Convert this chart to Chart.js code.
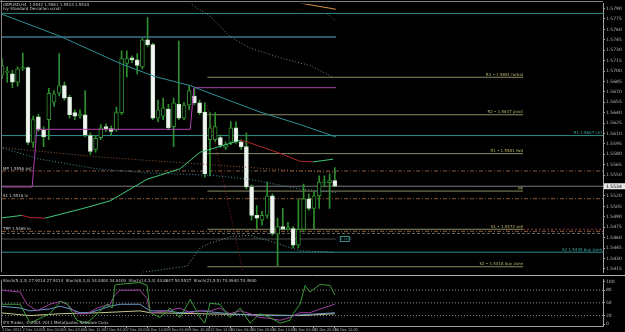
<!DOCTYPE html>
<html>
<head>
<meta charset="utf-8">
<title>GBPUSD,H4</title>
<script src="https://cdn.jsdelivr.net/npm/chart.js@4.4.1/dist/chart.umd.min.js"></script>
<style>
  html, body { margin: 0; padding: 0; background: #000; }
  #wrap { position: relative; width: 625px; height: 332px; overflow: hidden; background: #000; }
  canvas { position: absolute; left: 0; }
  #main { top: 0; }
  #osc { top: 276px; }
</style>
</head>
<body>
<div id="wrap">
  <canvas id="main" width="625" height="276"></canvas>
  <canvas id="osc" width="625" height="56"></canvas>
</div>
<script>
// H4 bars, first one 1 Dec 20:00, last one 16 Dec 12:00
var opens = [1.5694, 1.5698, 1.5696, 1.5684, 1.5703, 1.5705, 1.5597, 1.5634, 1.5615, 1.5630,
  1.5655, 1.5668, 1.5679, 1.5662, 1.5640, 1.5635, 1.5637, 1.5607, 1.5587, 1.5604,
  1.5620, 1.5617, 1.5615, 1.5640, 1.5711, 1.5719, 1.5716, 1.5706, 1.5745, 1.5738,
  1.5632, 1.5635, 1.5645, 1.5620, 1.5652, 1.5632, 1.5651, 1.5664, 1.5654, 1.5641,
  1.5601, 1.5601, 1.5604, 1.5590, 1.5597, 1.5618, 1.5598, 1.5591, 1.5533, 1.5492,
  1.5485, 1.5492, 1.5520, 1.5465, 1.5476, 1.5472, 1.5473, 1.5449, 1.5472, 1.5516,
  1.5502, 1.5520, 1.5539, 1.5539, 1.5542];
var highs = [1.5718, 1.5706, 1.5701, 1.5706, 1.5726, 1.5706, 1.5635, 1.5638, 1.5620, 1.5675,
  1.5672, 1.5725, 1.5684, 1.5665, 1.5644, 1.5644, 1.5672, 1.5611, 1.5607, 1.5623,
  1.5624, 1.5621, 1.5648, 1.5729, 1.5729, 1.5722, 1.5725, 1.5747, 1.5777, 1.5740,
  1.5658, 1.5661, 1.5652, 1.5661, 1.5743, 1.5655, 1.5679, 1.5675, 1.5658, 1.5654,
  1.5640, 1.5640, 1.5608, 1.5598, 1.5627, 1.5627, 1.5601, 1.5611, 1.5536, 1.5506,
  1.5498, 1.5540, 1.5523, 1.5488, 1.5502, 1.5482, 1.5476, 1.5516, 1.5537, 1.5523,
  1.5526, 1.5549, 1.5549, 1.5552, 1.5561];
var lows = [1.5689, 1.5684, 1.5676, 1.5678, 1.5701, 1.5594, 1.5590, 1.5613, 1.5591, 1.5601,
  1.5649, 1.5664, 1.5658, 1.5632, 1.5630, 1.5632, 1.5605, 1.5580, 1.5583, 1.5601,
  1.5613, 1.5608, 1.5613, 1.5637, 1.5691, 1.5712, 1.5696, 1.5703, 1.5735, 1.5630,
  1.5627, 1.5630, 1.5615, 1.5591, 1.5630, 1.5630, 1.5644, 1.5651, 1.5637, 1.5547,
  1.5549, 1.5598, 1.5590, 1.5587, 1.5594, 1.5596, 1.5587, 1.5530, 1.5485, 1.5473,
  1.5478, 1.5488, 1.5463, 1.5419, 1.5471, 1.5471, 1.5445, 1.5445, 1.5469, 1.5499,
  1.5473, 1.5502, 1.5533, 1.5502, 1.5533];
var closes = [1.5708, 1.5699, 1.5684, 1.5703, 1.5705, 1.5597, 1.5630, 1.5615, 1.5605, 1.5668,
  1.5667, 1.5679, 1.5661, 1.5637, 1.5635, 1.5638, 1.5608, 1.5584, 1.5603, 1.5618,
  1.5617, 1.5613, 1.5640, 1.5718, 1.5718, 1.5716, 1.5708, 1.5745, 1.5738, 1.5632,
  1.5644, 1.5647, 1.5618, 1.5654, 1.5632, 1.5651, 1.5672, 1.5654, 1.5640, 1.5552,
  1.5618, 1.5620, 1.5593, 1.5594, 1.5618, 1.5598, 1.5591, 1.5533, 1.5492, 1.5488,
  1.5492, 1.5520, 1.5466, 1.5476, 1.5472, 1.5475, 1.5449, 1.5472, 1.5516, 1.5502,
  1.5520, 1.5540, 1.5540, 1.5542, 1.5534];

// one time label every 4 bars
var timeLabels = ['1 Dec 2011', '2 Dec 12:00', '5 Dec 04:00', '5 Dec 20:00', '6 Dec 12:00', '7 Dec 04:00',
  '7 Dec 20:00', '8 Dec 12:00', '9 Dec 04:00', '9 Dec 20:00', '12 Dec 12:00', '13 Dec 04:00',
  '13 Dec 20:00', '14 Dec 12:00', '15 Dec 04:00', '15 Dec 20:00', '16 Dec 12:00'];
var priceTicks = [1.5790, 1.5775, 1.5760, 1.5745, 1.5730, 1.5715, 1.5700, 1.5685, 1.5670, 1.5655,
  1.5640, 1.5625, 1.5610, 1.5595, 1.5580, 1.5565, 1.5550, 1.5535, 1.5520, 1.5505,
  1.5490, 1.5475, 1.5460, 1.5445, 1.5430, 1.5415];
var oscTicks = [100, 80, 50, 20, 0];
var oscLevels = [80, 50, 20];

// horizontal objects
var tealLevels = [1.5783, 1.5607, 1.5439];
var tealNames = ['', 'R1 1.5607 ctrl', 'S2 1.5439 buy zone'];
var pivotLevels = [1.5691, 1.5637, 1.5581, 1.5527, 1.5472, 1.5418];
var pivotNames = ['R3 \u2022 1.5691 forbid', 'R2 \u2022 1.5637 pivot', 'R1 \u2022 1.5581 fwd', 'PP', 'S1 \u2022 1.5472 sell', 'S2 \u2022 1.5418 buy zone'];
var dashLevels = [1.5556, 1.5516, 1.5469];
var dashNames = ['MP 1.5556 pvt', 'S1 1.5516 lv', 'TRP 1.5469 lo'];
var greyDashLevel = 1.5466;
var bidLevel = 1.5534;
var weekHigh = 1.5749;
var weekLow = 1.5458;

// indicator lines, [bar, price]
var maTeal = [[-0.4, 1.5783], [11.2, 1.5750], [22.7, 1.5711], [29.4, 1.5692], [36.2, 1.5679], [40, 1.5668], [49.6, 1.5641], [57.3, 1.5623], [64.2, 1.5605]];
var maTrend = [[-0.4, 1.5488], [3.8, 1.5492], [5.4, 1.5489], [8.3, 1.5488], [15.6, 1.5502], [20.8, 1.5513], [27.9, 1.5544], [34.2, 1.5559], [38.1, 1.5583], [40, 1.5587], [44.4, 1.5597], [45.8, 1.5600], [47.1, 1.5598], [52.9, 1.5583], [57.3, 1.5570], [59.8, 1.5569], [63.7, 1.5573]];
var stopLine = [[-0.4, 1.5533], [5.8, 1.5533], [6.7, 1.5616], [36.2, 1.5616], [36.9, 1.5676], [64.2, 1.5676]];
var chanUpper = [[35.6, 1.5800], [40, 1.5779], [43.8, 1.5750], [47.7, 1.5733], [54.0, 1.5718], [59.2, 1.5708], [63.7, 1.5691]];
var chanUpper2 = [[62.5, 1.5783], [64.2, 1.5772]];
var chanMid = [[-0.4, 1.5590], [18.9, 1.5576], [38.1, 1.5566], [57.3, 1.5556], [64.2, 1.5554]];
var chanMid2 = [[-0.4, 1.5590], [7.3, 1.5573], [18.3, 1.5559], [28.5, 1.5553], [40, 1.5550], [47.7, 1.5544], [57.3, 1.5530], [64.2, 1.5525]];
var chanLower = [[27.1, 1.5410], [35.6, 1.5419], [38.1, 1.5445], [40, 1.5452], [44.4, 1.5462], [47.7, 1.5463], [51.5, 1.5455], [57.3, 1.5441], [63.7, 1.5439]];
var fibRay = [[39.4, 1.5651], [46.35, 1.5410]];
var orangeRay = [[57.3, 1.5798], [64.2, 1.5789]];

// stochastics, [bar, value]
var stochGreen = [[-0.4, 46.7], [3.5, 46.7], [5.4, 2.2], [7.3, 13.3], [9.2, 24.4], [11.2, 53.3], [12.5, 48.9], [14.4, 8.9], [16.3, 2.2], [18.3, 24.4], [20.2, 46.7], [21.2, 37.8], [21.7, 91.1], [22.1, 93.3], [26.5, 97.8], [27.9, 91.1], [28.5, 26.7], [30.4, 15.6], [32.3, 37.8], [34.2, 15.6], [36.2, 57.8], [38.1, 15.6], [39.0, 2.2], [40, 48.9], [41.9, 46.7], [43.8, 15.6], [45.8, 37.8], [47.7, 2.2], [49.6, 24.4], [51.5, 15.6], [53.5, 2.2], [55.4, 8.9], [56, 24.4], [57.3, 46.7], [58.3, 91.1], [59.2, 75.6], [61.2, 93.3], [63.1, 91.1], [64, 68.9]];
var stochMagenta = [[-0.4, 80], [3.5, 75.6], [4.8, 46.7], [6.7, 31.1], [9.2, 46.7], [11.2, 53.3], [12.5, 46.7], [14.4, 24.4], [16.3, 24.4], [18.3, 37.8], [20.8, 46.7], [21.7, 68.9], [22.7, 80], [26.5, 80], [27.9, 60], [28.5, 26.7], [31.7, 31.1], [34.2, 37.8], [36.2, 26.7], [38.1, 31.1], [40, 31.1], [41.9, 37.8], [43.8, 24.4], [45.8, 31.1], [47.7, 24.4], [49.6, 15.6], [51.5, 13.3], [53.5, 8.9], [55.4, 15.6], [57.3, 26.7], [59.2, 26.7], [61.2, 35.6], [64, 46.7]];
var stochBlue = [[-0.4, 42.2], [3.5, 37.8], [5.4, 31.1], [9.2, 35.6], [11.2, 42.2], [13.1, 35.6], [15, 26.7], [16.9, 26.7], [20.8, 42.2], [22.7, 46.7], [26.5, 46.7], [28.5, 31.1], [31.7, 31.1], [34.2, 26.7], [38.1, 31.1], [43.8, 24.4], [49.6, 20], [55.4, 20], [61.2, 24.4], [64, 26.7]];
var stochYellow = [[-0.4, 26.7], [5.4, 20], [11.2, 24.4], [18.9, 26.7], [26.5, 31.1], [28.5, 26.7], [38.1, 24.4], [47.7, 22.2], [57.3, 20], [64, 24.4]];

// ---- chart setup ----
var FONT = 'DejaVu Sans';
var xMin = 0, xMax = 115.58;
var lastBar = 64.2, pivotStart = 39.5, pivotEnd = 100.2;
var GREEN = '#2f8f2f';

function pts(arr) { return arr.map(function (p) { return {x: p[0], y: p[1]}; }); }
function hline(v, from, to) { return [{x: from, y: v}, {x: to, y: v}]; }
function lineSet(data, color, dash, order) {
  return {type: 'line', data: data, borderColor: color, borderWidth: 1, borderDash: dash || [],
    pointRadius: 0, tension: 0, fill: false, order: order == null ? 0 : order};
}

var mainSets = [];
mainSets.push({
  type: 'bar', order: 2, grouped: false, barThickness: 1,
  data: lows.map(function (l, i) { return {x: i, y: [l, highs[i]]}; }),
  backgroundColor: GREEN
});
mainSets.push({
  type: 'bar', order: 1, grouped: false, barThickness: 4, minBarLength: 1,
  borderWidth: 1, borderSkipped: false,
  data: opens.map(function (o, i) { return {x: i, y: [o, closes[i]]}; }),
  backgroundColor: opens.map(function (o, i) { return closes[i] >= o ? '#000000' : '#f4f4f4'; }),
  borderColor: opens.map(function (o, i) { return closes[i] >= o ? GREEN : '#cfe8cf'; })
});

// levels behind the candles
tealLevels.forEach(function (v) { mainSets.push(lineSet(hline(v, xMin, xMax), '#2f8f8a', [], 5)); });
pivotLevels.forEach(function (v) { mainSets.push(lineSet(hline(v, pivotStart, pivotEnd), '#8a8a62', [], 5)); });
dashLevels.forEach(function (v) { mainSets.push(lineSet(hline(v, xMin, xMax), '#8a5a3a', [4, 2, 1, 2], 5)); });
mainSets.push(lineSet(hline(pivotLevels[4], pivotEnd, xMax), '#9a3030', [2, 2], 5));
mainSets.push(lineSet(hline(greyDashLevel, xMin, xMax), '#6a6a6a', [3, 2], 5));
mainSets.push(lineSet(hline(bidLevel, xMin, xMax), '#7a7a7a', [], 5));
mainSets.push(lineSet(hline(weekHigh, xMin, lastBar), '#5ab0cc', [], 5));
mainSets.push(lineSet(hline(weekLow, xMin, lastBar), '#4a4a4a', [], 5));

// indicators on top
mainSets.push(lineSet(pts(maTeal), '#2f8f96'));
mainSets.push(lineSet(pts(chanUpper), '#5f8a88', [1, 2]));
mainSets.push(lineSet(pts(chanUpper2), '#5f8a88', [1, 2]));
mainSets.push(lineSet(pts(chanMid), '#8a5a3a', [1, 2]));
mainSets.push(lineSet(pts(chanMid2), '#4a8a9a', [1, 2]));
mainSets.push(lineSet(pts(chanLower), '#6a9a9a', [1, 2]));
mainSets.push(lineSet(pts(fibRay), '#8b2020', [1, 2]));
mainSets.push(lineSet(pts(orangeRay), '#e09040'));
mainSets.push(lineSet(pts(stopLine), '#b040b0'));
var trend = lineSet(pts(maTrend), '#3cc878');
trend.segment = {borderColor: function (c) { return c.p1.parsed.y < c.p0.parsed.y ? '#b02828' : '#3cc878'; }};
mainSets.push(trend);

var mainText = {
  id: 'mainText',
  afterDraw: function (chart) {
    var ctx = chart.ctx, x = chart.scales.x, y = chart.scales.y, a = chart.chartArea;
    ctx.save();
    // frame
    ctx.strokeStyle = '#808080'; ctx.lineWidth = 1;
    ctx.beginPath();
    ctx.moveTo(0, 1.5); ctx.lineTo(a.right, 1.5);
    ctx.moveTo(1.5, 0); ctx.lineTo(1.5, a.bottom);
    ctx.stroke();
    ctx.strokeStyle = '#b0b0b0';
    ctx.beginPath(); ctx.moveTo(0, 275.5); ctx.lineTo(625, 275.5); ctx.stroke();

    ctx.font = '4px "' + FONT + '"';
    ctx.textBaseline = 'top'; ctx.textAlign = 'left';
    ctx.fillStyle = '#c8c8c8';
    ctx.fillText('GBPUSD,H4  1.5542 1.5561 1.5533 1.5534', 3, 2.5);
    ctx.fillText('Ivy Standard Deviation scroll', 3, 7);

    ctx.textBaseline = 'bottom';
    ctx.textAlign = 'right'; ctx.fillStyle = '#b8b46c';
    pivotLevels.forEach(function (p, i) {
      ctx.fillText(pivotNames[i], x.getPixelForValue(pivotEnd), y.getPixelForValue(p) - 0.3);
    });
    ctx.fillStyle = '#3aa8a0';
    tealLevels.forEach(function (p, i) {
      if (tealNames[i]) ctx.fillText(tealNames[i], a.right - 1, y.getPixelForValue(p) - 0.3);
    });
    ctx.textAlign = 'left'; ctx.fillStyle = '#c8c8c8';
    dashLevels.forEach(function (p, i) {
      ctx.fillText(dashNames[i], 3, y.getPixelForValue(p) - 0.5);
    });

    // small tag at the end of the low line
    var ly = y.getPixelForValue(weekLow), lx = x.getPixelForValue(lastBar) + 4;
    ctx.strokeStyle = '#3a8a8a';
    ctx.strokeRect(lx + 0.5, ly - 2.5, 9, 5);
    ctx.fillStyle = '#3a8a8a'; ctx.textBaseline = 'middle';
    ctx.font = '3px "' + FONT + '"';
    ctx.fillText(weekLow.toFixed(4), lx + 1, ly + 0.2);

    // current price box on the axis
    var by = y.getPixelForValue(bidLevel);
    ctx.fillStyle = '#e8e8e8';
    ctx.fillRect(a.right + 1, by - 3, 21, 6);
    ctx.fillStyle = '#000';
    ctx.font = '4.5px "' + FONT + '"';
    ctx.fillText(bidLevel.toFixed(4), a.right + 3, by + 0.3);
    ctx.restore();
  }
};

new Chart(document.getElementById('main'), {
  type: 'bar',
  data: {datasets: mainSets},
  options: {
    responsive: false, animation: false, devicePixelRatio: 1,
    layout: {padding: {left: 2, top: 2, right: 0, bottom: 1}},
    plugins: {legend: {display: false}, tooltip: {enabled: false}},
    scales: {
      x: {type: 'linear', min: xMin, max: xMax, offset: false, display: false},
      y: {
        type: 'linear', position: 'right', min: 1.5410, max: 1.5797, beginAtZero: false,
        afterBuildTicks: function (s) { s.ticks = priceTicks.map(function (v) { return {value: v}; }); },
        afterFit: function (s) { s.width = 22; },
        grid: {display: true, drawOnChartArea: false, drawTicks: true, tickLength: 2, color: '#a0a0a0'},
        border: {display: true, color: '#a0a0a0'},
        ticks: {color: '#b8b8b8', autoSkip: false, padding: 1, font: {family: FONT, size: 4.5},
          callback: function (v) { return v.toFixed(4); }}
      }
    }
  },
  plugins: [mainText]
});

// ---- oscillator window ----
var oscSets = [];
oscLevels.forEach(function (v) { oscSets.push(lineSet(hline(v, xMin, xMax), '#8a8a8a', [1, 2], 5)); });
oscSets.push(lineSet(pts(stochYellow), '#c8c890', [], 4));
oscSets.push(lineSet(pts(stochBlue), '#6a9ac8', [], 3));
oscSets.push(lineSet(pts(stochMagenta), '#a040a0', [], 2));
oscSets.push(lineSet(pts(stochGreen), '#3a9a3a', [], 1));

var oscText = {
  id: 'oscText',
  afterDraw: function (chart) {
    var ctx = chart.ctx, a = chart.chartArea;
    ctx.save();
    ctx.strokeStyle = '#808080';
    ctx.beginPath(); ctx.moveTo(1.5, a.top); ctx.lineTo(1.5, a.bottom); ctx.stroke();
    ctx.font = '4px "' + FONT + '"';
    ctx.fillStyle = '#c8c8c8';
    ctx.textAlign = 'left'; ctx.textBaseline = 'top';
    ctx.fillText('Stoch(5,3,3) 27.9214 27.9214  Stoch(8,3,3) 34.0400 34.0400  Stoch(14,3,3) 44.8847 54.5527  Stoch(21,5,5) 74.4940 74.4940', 3, 2.5);
    ctx.textBaseline = 'bottom';
    ctx.fillText('IFX Trader, \u00a9 2001-2011 MetaQuotes Software Corp.', 3, a.bottom - 1);
    ctx.restore();
  }
};

new Chart(document.getElementById('osc'), {
  type: 'line',
  data: {datasets: oscSets},
  options: {
    responsive: false, animation: false, devicePixelRatio: 1,
    layout: {padding: {left: 2, top: 1, right: 0, bottom: 0}},
    plugins: {legend: {display: false}, tooltip: {enabled: false}},
    scales: {
      x: {
        type: 'linear', min: xMin, max: xMax, offset: false, position: 'bottom',
        afterBuildTicks: function (s) { s.ticks = timeLabels.map(function (t, i) { return {value: i * 4}; }); },
        afterFit: function (s) { s.height = 6; },
        grid: {drawOnChartArea: false, drawTicks: true, tickLength: 2, color: '#a0a0a0'},
        border: {display: true, color: '#a0a0a0'},
        ticks: {color: '#b8b8b8', autoSkip: false, maxRotation: 0, padding: 0, align: 'start',
          font: {family: 'DejaVu Sans Condensed', size: 3.8},
          callback: function (v, i) { return timeLabels[i]; }}
      },
      y: {
        type: 'linear', position: 'right', min: -4.5, max: 104.5,
        afterBuildTicks: function (s) { s.ticks = oscTicks.map(function (v) { return {value: v}; }); },
        afterFit: function (s) { s.width = 22; },
        grid: {display: true, drawOnChartArea: false, drawTicks: true, tickLength: 2, color: '#a0a0a0'},
        border: {display: true, color: '#a0a0a0'},
        ticks: {color: '#b8b8b8', autoSkip: false, padding: 1, font: {family: FONT, size: 4.5}}
      }
    }
  },
  plugins: [oscText]
});
</script>
</body>
</html>
